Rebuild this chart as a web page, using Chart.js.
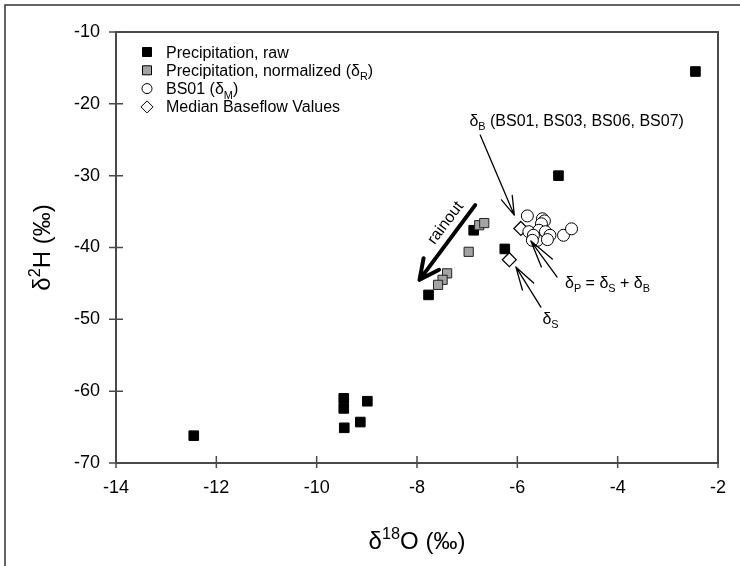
<!DOCTYPE html>
<html>
<head>
<meta charset="utf-8">
<script src="https://cdn.jsdelivr.net/npm/chart.js@4.4.0/dist/chart.umd.min.js"></script>
<style>
  html, body { margin: 0; padding: 0; background: #fff; }
  #wrap { width: 740px; height: 566px; }
</style>
</head>
<body>
<div id="wrap"><canvas id="myChart" width="740" height="566"></canvas></div>
<script>
// values (d18O, d2H, permil)
const rawX = [-2.45, -5.18, -6.87, -6.25, -7.77, -9.46, -9.46, -8.99, -9.45, -9.13, -12.45];
const rawY = [-15.5, -30.0, -37.6, -40.2, -46.6, -61.0, -62.4, -61.4, -65.1, -64.3, -66.2];
const normX = [-6.76, -6.66, -6.97, -7.40, -7.49, -7.58];
const normY = [-36.9, -36.6, -40.6, -43.6, -44.5, -45.2];
const bsX = [-5.80, -5.50, -5.46, -5.52, -5.77, -5.57, -5.44, -5.35, -5.60, -5.40, -5.08, -4.92, -5.68, -5.70];
const bsY = [-35.6, -36.0, -36.3, -36.7, -37.8, -37.6, -37.8, -38.3, -39.0, -38.9, -38.3, -37.4, -38.3, -39.0];
const medX = [-5.93, -6.16];
const medY = [-37.35, -41.7];
const xTicks = [-14, -12, -10, -8, -6, -4, -2];
const yTicks = [-70, -60, -50, -40, -30, -20, -10];

const FONT = "'Liberation Sans', Arial, sans-serif";
const AXIS = "#4a4a4a";

// legend rows: text parts [text, sub/sup]
const legendRows = [
  { mark: "raw", parts: [["Precipitation, raw"]] },
  { mark: "norm", parts: [["Precipitation, normalized ("], ["\u03b4"], ["R", "sub"], [")"]] },
  { mark: "circle", parts: [["BS01 ("], ["\u03b4"], ["M", "sub"], [")"]] },
  { mark: "diamond", parts: [["Median Baseflow Values"]] },
];

// annotations in data units
const arrows = [
  { from: [-6.84, -34.1], to: [-7.95, -44.5], width: 4, head: 22, angle: 26 },
  { from: [-6.74, -24.35], to: [-6.06, -35.5], width: 1.3, head: 20, angle: 17 },
  { from: [-5.21, -44.1], to: [-5.73, -39.1], width: 1.3, head: 28, angle: 14 },
  { from: [-5.53, -48.3], to: [-6.03, -42.7], width: 1.3, head: 24, angle: 16 },
];
const notes = [
  { at: [-2.68, -22.26], align: "right", parts: [["\u03b4"], ["B", "sub"], [" (BS01, BS03, BS06, BS07)"]] },
  { at: [-5.05, -44.83], align: "left", parts: [["\u03b4"], ["P", "sub"], [" = "], ["\u03b4"], ["S", "sub"], [" + "], ["\u03b4"], ["B", "sub"]] },
  { at: [-5.50, -49.85], align: "left", parts: [["\u03b4"], ["S", "sub"]] },
];

function toPoints(xs, ys) {
  return xs.map((x, i) => ({ x: x, y: ys[i] }));
}

// text with subscripts / superscripts, y = baseline
function drawRich(ctx, parts, x, y, size, align) {
  const fontFor = (m) => (m ? size * 0.68 : size) + "px " + FONT;
  let total = 0;
  parts.forEach((p) => {
    ctx.font = fontFor(p[1]);
    total += ctx.measureText(p[0]).width;
  });
  let cx = align === "center" ? x - total / 2 : align === "right" ? x - total : x;
  ctx.textAlign = "left";
  ctx.textBaseline = "alphabetic";
  parts.forEach((p) => {
    ctx.font = fontFor(p[1]);
    const dy = p[1] === "sub" ? size * 0.28 : p[1] === "sup" ? -size * 0.42 : 0;
    ctx.fillText(p[0], cx, y + dy);
    cx += ctx.measureText(p[0]).width;
  });
}

function drawArrow(ctx, x1, y1, x2, y2, width, head, angle) {
  const a = Math.atan2(y2 - y1, x2 - x1);
  const t = (angle * Math.PI) / 180;
  ctx.save();
  ctx.strokeStyle = "#000";
  ctx.lineWidth = width;
  ctx.lineCap = "round";
  ctx.lineJoin = "round";
  ctx.beginPath();
  ctx.moveTo(x1, y1);
  ctx.lineTo(x2, y2);
  ctx.moveTo(x2 - head * Math.cos(a - t), y2 - head * Math.sin(a - t));
  ctx.lineTo(x2, y2);
  ctx.lineTo(x2 - head * Math.cos(a + t), y2 - head * Math.sin(a + t));
  ctx.stroke();
  ctx.restore();
}

function drawMark(ctx, kind, x, y) {
  ctx.save();
  ctx.lineWidth = 1;
  ctx.strokeStyle = "#000";
  ctx.beginPath();
  if (kind === "raw" || kind === "norm") {
    ctx.rect(x - 4.5, y - 4.5, 9, 9);
    ctx.fillStyle = kind === "raw" ? "#000" : "#a3a3a3";
  } else if (kind === "circle") {
    ctx.arc(x, y, 5, 0, Math.PI * 2);
    ctx.fillStyle = "#fff";
  } else {
    ctx.moveTo(x, y - 6);
    ctx.lineTo(x + 6, y);
    ctx.lineTo(x, y + 6);
    ctx.lineTo(x - 6, y);
    ctx.closePath();
    ctx.fillStyle = "#fff";
  }
  ctx.fill();
  ctx.stroke();
  ctx.restore();
}

const decorations = {
  id: "decorations",
  beforeDraw(chart) {
    const ctx = chart.ctx;
    ctx.save();
    ctx.fillStyle = "#fff";
    ctx.fillRect(0, 0, chart.width, chart.height);
    // outer figure border
    ctx.strokeStyle = "#333";
    ctx.lineWidth = 1.5;
    ctx.beginPath();
    ctx.moveTo(5, chart.height);
    ctx.lineTo(5, 5);
    ctx.lineTo(chart.width, 5);
    ctx.stroke();
    ctx.restore();
  },
  afterDraw(chart) {
    const ctx = chart.ctx;
    const a = chart.chartArea;
    const xs = chart.scales.x;
    const ys = chart.scales.y;
    ctx.save();
    // frame
    ctx.strokeStyle = AXIS;
    ctx.lineWidth = 2;
    ctx.strokeRect(a.left, a.top, a.right - a.left, a.bottom - a.top);
    // tick marks crossing the axes
    ctx.lineWidth = 1.5;
    ctx.beginPath();
    xTicks.forEach((v) => {
      const px = xs.getPixelForValue(v);
      ctx.moveTo(px, a.bottom - 7);
      ctx.lineTo(px, a.bottom + 5);
    });
    yTicks.forEach((v) => {
      const py = ys.getPixelForValue(v);
      ctx.moveTo(a.left - 7, py);
      ctx.lineTo(a.left + 7, py);
    });
    ctx.stroke();

    // axis titles
    ctx.fillStyle = "#000";
    drawRich(ctx, [["\u03b4"], ["18", "sup"], ["O (\u2030)"]], (a.left + a.right) / 2, 549, 24, "center");
    ctx.save();
    ctx.translate(50, (a.top + a.bottom) / 2);
    ctx.rotate(-Math.PI / 2);
    drawRich(ctx, [["\u03b4"], ["2", "sup"], ["H (\u2030)"]], 0, 0, 24, "center");
    ctx.restore();

    // legend
    legendRows.forEach((row, i) => {
      const cy = 52 + i * 18.3;
      drawMark(ctx, row.mark, 147, cy);
      ctx.fillStyle = "#000";
      drawRich(ctx, row.parts, 166, cy + 5.5, 16, "left");
    });

    // arrows and notes
    arrows.forEach((ar) => {
      drawArrow(ctx,
        xs.getPixelForValue(ar.from[0]), ys.getPixelForValue(ar.from[1]),
        xs.getPixelForValue(ar.to[0]), ys.getPixelForValue(ar.to[1]),
        ar.width, ar.head, ar.angle);
    });
    notes.forEach((n) => {
      ctx.fillStyle = "#000";
      drawRich(ctx, n.parts, xs.getPixelForValue(n.at[0]), ys.getPixelForValue(n.at[1]) + 5.5, 16, n.align);
    });
    // rainout label along the thick arrow
    ctx.save();
    ctx.translate(xs.getPixelForValue(-7.43), ys.getPixelForValue(-36.6));
    ctx.rotate((-53 * Math.PI) / 180);
    ctx.fillStyle = "#000";
    ctx.font = "16px " + FONT;
    ctx.textAlign = "center";
    ctx.textBaseline = "middle";
    ctx.fillText("rainout", 0, 0);
    ctx.restore();
    ctx.restore();
  },
};

const ctx = document.getElementById("myChart").getContext("2d");
const chart = new Chart(ctx, {
  type: "scatter",
  data: {
    datasets: [
      {
        label: "BS01",
        data: toPoints(bsX, bsY),
        pointStyle: "circle",
        pointRadius: 6,
        backgroundColor: "#fff",
        borderColor: "#000",
        borderWidth: 1,
        order: 1,
      },
      {
        label: "Median Baseflow Values",
        data: toPoints(medX, medY),
        pointStyle: "rectRot",
        pointRadius: 7,
        backgroundColor: "#fff",
        borderColor: "#000",
        borderWidth: 1.2,
        order: 2,
      },
      {
        label: "Precipitation, normalized",
        data: toPoints(normX, normY),
        pointStyle: "rect",
        pointRadius: 6.5,
        backgroundColor: "#a3a3a3",
        borderColor: "#222",
        borderWidth: 1,
        order: 3,
      },
      {
        label: "Precipitation, raw",
        data: toPoints(rawX, rawY),
        pointStyle: "rect",
        pointRadius: 6.8,
        backgroundColor: "#000",
        borderColor: "#000",
        borderWidth: 1,
        order: 4,
      },
    ],
  },
  options: {
    responsive: false,
    animation: false,
    events: [],
    layout: { padding: { top: 32, right: 11, left: 0, bottom: 0 } },
    plugins: {
      legend: { display: false },
      tooltip: { enabled: false },
    },
    scales: {
      x: {
        type: "linear",
        min: xTicks[0],
        max: xTicks[xTicks.length - 1],
        afterBuildTicks: (s) => { s.ticks = xTicks.map((v) => ({ value: v })); },
        afterFit: (s) => { s.height = 103; },
        ticks: { font: { family: FONT, size: 18 }, color: "#000", padding: 14 },
        grid: { display: true, drawOnChartArea: false, drawTicks: false },
        border: { color: AXIS, width: 2 },
      },
      y: {
        type: "linear",
        min: yTicks[0],
        max: yTicks[yTicks.length - 1],
        afterBuildTicks: (s) => { s.ticks = yTicks.map((v) => ({ value: v })); },
        afterFit: (s) => { s.width = 116; },
        ticks: { font: { family: FONT, size: 18 }, color: "#000", padding: 16 },
        grid: { display: true, drawOnChartArea: false, drawTicks: false },
        border: { color: AXIS, width: 2 },
      },
    },
  },
  plugins: [decorations],
});
</script>
</body>
</html>
